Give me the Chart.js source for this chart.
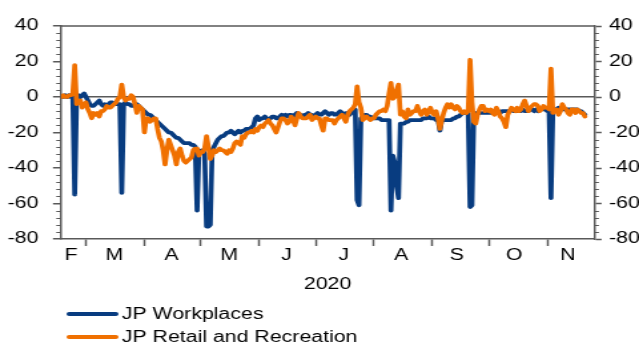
<!DOCTYPE html>
<html>
<head>
<meta charset="utf-8">
<script src="https://cdn.jsdelivr.net/npm/chart.js@4.4.1/dist/chart.umd.min.js"></script>
<style>
  html, body { margin: 0; padding: 0; background: #fff; overflow: hidden; }
  #chart { display: block; width: 639px; height: 345px; }
</style>
</head>
<body>
<canvas id="chart" width="480" height="345" style="width:639px;height:345px"></canvas>
<script>
// Daily values, one per day from 17 Feb 2020 (day 0) to 21 Nov 2020.
const firstDay = '2020-02-17';
const seriesNames = ['JP Workplaces', 'JP Retail and Recreation'];

// Day offsets of the first of each month (Mar .. Nov)
const monthStarts = [13, 44, 74, 105, 135, 166, 197, 227, 258];
// Where each month letter sits (day offset) and its text
const monthLabelDays = [5, 28, 58.5, 89, 119.5, 150, 180.5, 210, 240.5, 269];
const monthLabels = ['F', 'M', 'A', 'M', 'J', 'J', 'A', 'S', 'O', 'N'];
const yearLabel = '2020';
const yTickValues = [-80, -60, -40, -20, 0, 20, 40];

const workplaces = [
  0, 0, 1, 0, 1, 0, 0, -55, 0, 1, 0, 1, 2,
  0, -2, -4, -5, -5, -4, -3, -2, -4, -5, -4, -5, -4, -3, -3, -4, -4, -4, -4, -54, -4, -3, -4, -4, -5, -5, -4, -4, -5, -6, -7,
  -8, -9, -10, -10, -11, -12, -13, -14, -15, -16, -17, -18, -19, -20, -20, -21, -22, -23, -23, -24, -25, -26, -26, -26, -26, -27, -27, -28, -64, -30,
  -31, -30, -32, -73, -73, -72, -30, -28, -26, -24, -23, -22, -22, -21, -20, -20, -19, -20, -21, -20, -19, -20, -19, -19, -18, -18, -18, -17, -16, -12, -11,
  -13, -12, -12, -11, -12, -13, -12, -11, -11, -12, -12, -11, -10, -11, -10, -11, -10, -10, -11, -10, -9, -10, -10, -11, -10, -10, -9, -10, -10, -11,
  -10, -9, -10, -10, -9, -8, -9, -10, -9, -9, -10, -10, -9, -8, -9, -10, -9, -9, -10, -8, -9, -7, -58, -61, -12, -11, -10, -10, -11, -11, -12,
  -12, -12, -12, -12, -13, -13, -13, -13, -13, -64, -33, -37, -50, -57, -15, -15, -15, -14, -14, -13, -13, -13, -13, -13, -13, -13, -12, -12, -12, -11, -12,
  -12, -12, -13, -13, -19, -13, -13, -13, -13, -13, -13, -12, -12, -11, -11, -10, -9, -9, -9, -9, -62, -61, -9, -9, -9, -9, -9, -9, -9, -9,
  -9, -9, -8, -9, -8, -8, -9, -8, -8, -8, -8, -8, -7, -8, -8, -8, -8, -8, -7, -8, -8, -8, -7, -7, -8, -7, -8, -7, -7, -7, -7,
  -8, -8, -57, -7, -7, -7, -6, -7, -7, -7, -7, -7, -7, -7, -7, -7, -7, -8, -8, -9, -10
];

const retailRecreation = [
  0, 1, 0, 0, 1, 1, 2, 18, -4, -3, -2, -6, -4,
  -3, -7, -9, -12, -9, -10, -9, -11, -8, -8, -7, -5, -6, -6, -5, -4, -3, -1, 0, 7, 0, -2, -1, -1, 1, 0, -4, -9, -5, -6, -7,
  -20, -12, -12, -14, -13, -12, -12, -18, -23, -25, -30, -38, -30, -24, -27, -30, -33, -38, -31, -29, -33, -36, -37, -36, -35, -34, -30, -29, -29, -33,
  -31, -31, -29, -22, -28, -35, -33, -30, -31, -30, -29, -30, -30, -31, -32, -30, -31, -29, -26, -25, -26, -27, -22, -23, -21, -20, -20, -19, -20, -18, -19,
  -17, -16, -17, -15, -14, -13, -15, -16, -18, -20, -17, -14, -12, -12, -13, -15, -14, -11, -13, -16, -12, -9, -11, -12, -12, -12, -11, -10, -13, -12,
  -11, -12, -12, -16, -19, -12, -12, -13, -13, -13, -15, -13, -12, -11, -10, -12, -14, -10, -8, -7, -6, -4, 6, -3, -6, -13, -12, -11, -12, -13, -12,
  -12, -10, -9, -8, -8, -7, -8, -5, 2, 8, -1, 0, 4, 7, -10, -8, -11, -12, -7, -10, -9, -8, -8, -5, -8, -10, -8, -7, -10, -8, -6,
  -9, -10, -8, -12, -18, -13, -9, -6, -4, -6, -4, -6, -7, -5, -6, -8, -9, -8, -9, -8, 21, -3, -14, -15, -10, -7, -5, -5, -8, -7,
  -8, -7, -9, -10, -6, -8, -11, -12, -14, -17, -10, -8, -6, -7, -8, -6, -8, -7, -4, -2, -5, -8, -6, -5, -4, -4, -5, -8, -7, -5, -6,
  -6, -7, 16, -9, -8, -7, -10, -8, -4, -6, -7, -9, -10, -7, -7, -9, -7, -8, -9, -9, -11
];

const BLUE = '#083c80';
const ORANGE = '#f07000';
const AXIS = '#595959';
const FONT = { family: "'Liberation Sans', Arial, sans-serif", size: 16 };

const toPoints = arr => arr.map((v, i) => ({ x: i, y: v }));

// x ticks: month boundaries carry only a tick mark, month letters carry no mark
function buildXTicks(scale) {
  const list = monthStarts.map(v => ({ value: v, text: '' }))
    .concat(monthLabelDays.map((v, i) => ({ value: v, text: monthLabels[i] })));
  list.sort((a, b) => a.value - b.value);
  scale.ticks = list;
}
function buildYTicks(scale) {
  scale.ticks = yTickValues.map(v => ({ value: v }));
}

// Small ticks between the labelled ones, plus the top frame line
const framePlugin = {
  id: 'frame',
  afterDraw(chart) {
    const { ctx, chartArea } = chart;
    const y = chart.scales.y;
    ctx.save();
    ctx.strokeStyle = AXIS;
    ctx.lineWidth = 1.2;
    ctx.beginPath();
    for (let v = -80; v <= 40; v += 4) {
      if (v % 20 === 0) continue;
      const py = Math.round(y.getPixelForValue(v)) + 0.5;
      ctx.moveTo(chartArea.left - 3.5, py);
      ctx.lineTo(chartArea.left, py);
      ctx.moveTo(chartArea.right, py);
      ctx.lineTo(chartArea.right + 3.5, py);
    }
    ctx.stroke();
    ctx.lineWidth = 1.5;
    ctx.beginPath();
    ctx.moveTo(chartArea.left, chartArea.top);
    ctx.lineTo(chartArea.right, chartArea.top);
    ctx.stroke();
    ctx.restore();
  }
};

// Legend: one row per series under the axis
const legendPlugin = {
  id: 'stackedLegend',
  afterDraw(chart) {
    const ctx = chart.ctx;
    const rows = [314, 337];
    ctx.save();
    ctx.font = `${FONT.size}px ${FONT.family}`;
    ctx.textBaseline = 'middle';
    ctx.textAlign = 'left';
    chart.data.datasets.forEach((ds, i) => {
      const yy = rows[i];
      ctx.strokeStyle = ds.borderColor;
      ctx.lineWidth = 4;
      ctx.lineCap = 'round';
      ctx.beginPath();
      ctx.moveTo(52, yy);
      ctx.lineTo(87, yy);
      ctx.stroke();
      ctx.fillStyle = '#000';
      ctx.fillText(ds.label, 91.5, yy + 0.5);
    });
    ctx.restore();
  }
};

new Chart(document.getElementById('chart'), {
  type: 'line',
  data: {
    datasets: [
      { label: seriesNames[0], data: toPoints(workplaces), borderColor: BLUE, backgroundColor: BLUE, order: 1 },
      { label: seriesNames[1], data: toPoints(retailRecreation), borderColor: ORANGE, backgroundColor: ORANGE, order: 0 }
    ]
  },
  options: {
    responsive: false,
    animation: false,
    devicePixelRatio: 1,
    layout: { padding: { top: 26, bottom: 51, left: 0, right: 0 } },
    elements: {
      point: { radius: 0, hoverRadius: 0 },
      line: { tension: 0, borderWidth: 3.7, borderJoinStyle: 'round', borderCapStyle: 'round' }
    },
    plugins: { legend: { display: false }, tooltip: { enabled: false } },
    scales: {
      x: {
        type: 'linear', position: 'bottom', min: -0.3, max: 283,
        afterBuildTicks: buildXTicks,
        afterFit: s => { s.height = 55; },
        ticks: {
          autoSkip: false, maxRotation: 0, minRotation: 0, padding: 0,
          color: '#000', font: FONT,
          callback: (v, i, ticks) => ticks[i].text
        },
        grid: {
          drawOnChartArea: false, drawTicks: true, tickLength: 7, tickWidth: 1.5,
          tickColor: c => (c.tick && c.tick.text) ? 'rgba(0,0,0,0)' : AXIS
        },
        border: { display: true, color: AXIS, width: 1.5 },
        title: { display: true, text: yearLabel, color: '#000', font: FONT, padding: { top: 11, bottom: 0 } }
      },
      y: {
        type: 'linear', position: 'left', min: -80, max: 40,
        afterBuildTicks: buildYTicks,
        afterFit: s => { s.width = 45.8; },
        ticks: { color: '#000', font: FONT, padding: 11 },
        grid: {
          drawOnChartArea: true, tickLength: 6, tickWidth: 1.5, tickColor: AXIS, lineWidth: 1.5,
          color: c => (c.tick && c.tick.value === 0) ? AXIS : 'rgba(0,0,0,0)'
        },
        border: { display: true, color: AXIS, width: 1.5 }
      },
      y2: {
        type: 'linear', position: 'right', min: -80, max: 40,
        afterBuildTicks: buildYTicks,
        afterFit: s => { s.width = 33.6; },
        ticks: { color: '#000', font: FONT, padding: 5.5 },
        grid: { drawOnChartArea: false, tickLength: 5.5, tickWidth: 1.5, tickColor: AXIS },
        border: { display: true, color: AXIS, width: 1.5 }
      }
    }
  },
  plugins: [framePlugin, legendPlugin]
});
</script>
</body>
</html>
